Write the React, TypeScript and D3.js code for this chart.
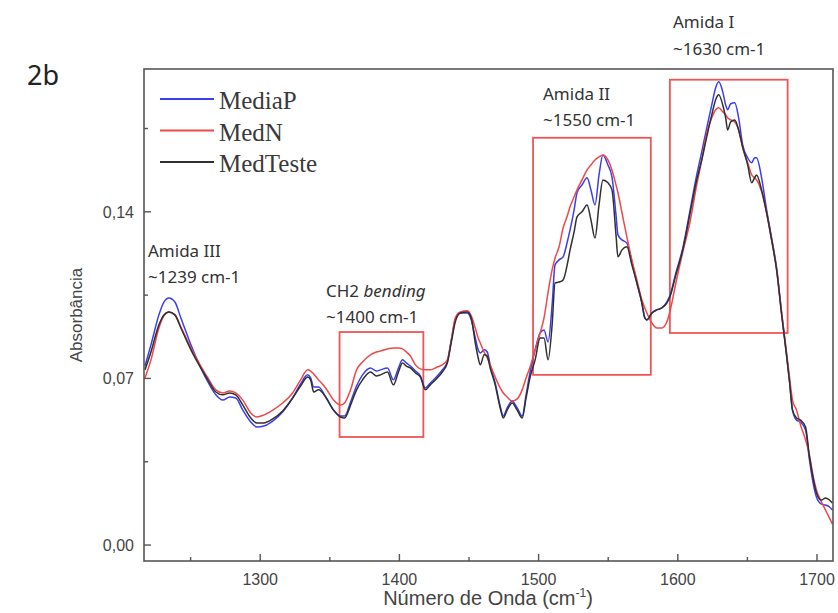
import React, { useEffect, useRef } from "react";
import * as d3 from "d3";

// wavenumber grid (cm-1) shared by the three averaged spectra
const wavenumber = [
  1217.2, 1221.5, 1227.2, 1230.8, 1234.4, 1238.7, 1243.0, 1250.2, 1257.3, 1262.4,
  1268.1, 1273.1, 1278.1, 1282.4, 1287.5, 1293.2, 1297.5, 1302.5, 1309.0, 1316.1,
  1323.3, 1329.0, 1334.1, 1336.2, 1338.4, 1341.9, 1347.0, 1352.7, 1357.7, 1360.6,
  1364.9, 1369.2, 1373.5, 1379.2, 1383.5, 1386.4, 1391.4, 1395.7, 1399.3, 1402.2,
  1405.0, 1407.9, 1411.5, 1415.1, 1418.6, 1422.2, 1427.2, 1430.8, 1434.4, 1437.3,
  1440.1, 1443.7, 1448.7, 1451.6, 1454.5, 1456.6, 1458.1, 1460.9, 1463.1, 1465.2,
  1468.8, 1472.4, 1474.6, 1477.4, 1481.0, 1484.6, 1488.2, 1491.0, 1493.9, 1497.5,
  1501.1, 1503.9, 1506.8, 1509.7, 1511.8, 1514.7, 1517.6, 1520.4, 1522.6, 1525.5,
  1527.6, 1531.2, 1534.8, 1537.6, 1540.5, 1543.4, 1546.2, 1549.8, 1552.7, 1555.6,
  1557.0, 1559.9, 1563.4, 1567.0, 1570.6, 1574.2, 1576.3, 1577.8, 1581.4, 1584.9,
  1588.5, 1592.1, 1594.3, 1598.6, 1603.6, 1608.6, 1613.6, 1617.2, 1620.8, 1624.4,
  1627.2, 1629.4, 1632.3, 1634.4, 1635.8, 1638.0, 1640.9, 1643.7, 1646.6, 1650.2,
  1653.1, 1655.2, 1656.6, 1660.2, 1663.8, 1667.4, 1671.0, 1674.6, 1678.1, 1680.3,
  1682.4, 1685.3, 1688.2, 1691.8, 1694.6, 1697.5, 1699.6, 1703.2, 1706.1, 1709.0,
  1711.1,
];

const mediaP = [
  0.0752, 0.0841, 0.0967, 0.1021, 0.1038, 0.1021, 0.0954, 0.0841, 0.0744, 0.0685,
  0.0631, 0.0609, 0.0622, 0.0618, 0.0567, 0.0517, 0.0496, 0.05, 0.0521, 0.0559,
  0.0618, 0.0677, 0.0715, 0.0702, 0.0664, 0.0664, 0.0622, 0.0567, 0.0542, 0.0542,
  0.0601, 0.0668, 0.0715, 0.0744, 0.0731, 0.0736, 0.0744, 0.0694, 0.0744, 0.0778,
  0.0765, 0.0752, 0.0731, 0.071, 0.066, 0.0681, 0.071, 0.0736, 0.0769, 0.0862,
  0.0946, 0.0975, 0.0975, 0.0946, 0.087, 0.082, 0.0807, 0.082, 0.0811, 0.0757,
  0.0681, 0.0584, 0.0542, 0.0576, 0.0605, 0.0576, 0.0542, 0.0631, 0.0727, 0.082,
  0.0891, 0.0904, 0.0853, 0.1009, 0.1177, 0.1198, 0.1211, 0.1269, 0.1324, 0.1408,
  0.148, 0.1513, 0.1543, 0.1492, 0.1429, 0.1555, 0.1639, 0.1597, 0.1547, 0.1387,
  0.1303, 0.1282, 0.1269, 0.119, 0.1101, 0.1017, 0.0954, 0.0946, 0.0975, 0.0988,
  0.0996, 0.1021, 0.1047, 0.1143, 0.1248, 0.14, 0.1555, 0.1652, 0.1753, 0.1849,
  0.1921, 0.1946, 0.1904, 0.1849, 0.1829, 0.1854, 0.1858, 0.1795, 0.1681, 0.1627,
  0.1606, 0.1627, 0.1627, 0.1543, 0.1408, 0.129, 0.1164, 0.0975, 0.0799, 0.0685,
  0.0567, 0.0525, 0.0517, 0.0483, 0.0357, 0.0252, 0.0202, 0.0172, 0.0168, 0.016,
  0.0147,
];

const medN = [
  0.0702, 0.0778, 0.0912, 0.0963, 0.0979, 0.0967, 0.0916, 0.0828, 0.0752, 0.0702,
  0.0652, 0.0639, 0.0647, 0.0639, 0.0609, 0.0555, 0.0538, 0.0546, 0.0567, 0.0597,
  0.0639, 0.0694, 0.0736, 0.0731, 0.0719, 0.0694, 0.066, 0.0609, 0.0588, 0.0597,
  0.0652, 0.0736, 0.0769, 0.0799, 0.0811, 0.0815, 0.0824, 0.0828, 0.0828, 0.0824,
  0.0811, 0.0794, 0.0757, 0.074, 0.0736, 0.0736, 0.0748, 0.0757, 0.0778, 0.0862,
  0.0954, 0.0979, 0.0984, 0.0963, 0.0912, 0.087, 0.0849, 0.0811, 0.0786, 0.0757,
  0.0706, 0.066, 0.0639, 0.0622, 0.0605, 0.0614, 0.0652, 0.0702, 0.0748, 0.082,
  0.0891, 0.0954, 0.1063, 0.1156, 0.1206, 0.1253, 0.1332, 0.1379, 0.1421, 0.1463,
  0.1492, 0.1534, 0.1576, 0.1597, 0.1618, 0.1631, 0.1639, 0.1618, 0.1576, 0.1513,
  0.148, 0.1396, 0.1295, 0.1198, 0.1114, 0.103, 0.0996, 0.0975, 0.0933, 0.0912,
  0.0912, 0.0937, 0.0979, 0.1101, 0.1232, 0.1353, 0.1513, 0.1618, 0.1732, 0.1795,
  0.1829, 0.1837, 0.182, 0.1807, 0.1795, 0.1786, 0.1778, 0.1744, 0.1669, 0.1606,
  0.1555, 0.1543, 0.1534, 0.1484, 0.1396, 0.1282, 0.1156, 0.0975, 0.0811, 0.0702,
  0.0609, 0.0567, 0.0504, 0.0441, 0.0378, 0.0282, 0.0231, 0.0181, 0.0147, 0.0113,
  0.0088,
];

const medTeste = [
  0.0736, 0.0811, 0.0925, 0.0967, 0.0979, 0.0967, 0.0912, 0.082, 0.0744, 0.0694,
  0.0643, 0.0631, 0.0639, 0.0631, 0.0588, 0.0534, 0.0513, 0.0513, 0.053, 0.0563,
  0.0618, 0.0668, 0.0706, 0.0694, 0.0643, 0.0652, 0.0622, 0.0567, 0.0538, 0.0534,
  0.0588, 0.0652, 0.0694, 0.0727, 0.071, 0.0715, 0.0727, 0.0673, 0.0727, 0.0765,
  0.0752, 0.0744, 0.0723, 0.0706, 0.0652, 0.0673, 0.0702, 0.0727, 0.0765, 0.0853,
  0.0937, 0.0975, 0.0979, 0.0954, 0.0849, 0.0786, 0.0757, 0.0799, 0.0794, 0.0744,
  0.0673, 0.0576, 0.0534, 0.0567, 0.0597, 0.0567, 0.0534, 0.0618, 0.0706, 0.0778,
  0.087, 0.087, 0.0778, 0.0925, 0.1101, 0.1105, 0.1114, 0.1173, 0.124, 0.1316,
  0.1379, 0.14, 0.1429, 0.1366, 0.129, 0.1429, 0.1534, 0.1522, 0.1492, 0.1303,
  0.1211, 0.124, 0.1253, 0.1177, 0.1101, 0.1017, 0.0954, 0.0946, 0.0975, 0.0988,
  0.0996, 0.1017, 0.1042, 0.1135, 0.124, 0.1387, 0.1534, 0.1618, 0.1715, 0.1807,
  0.1871, 0.1892, 0.1849, 0.1795, 0.1744, 0.1778, 0.1786, 0.1744, 0.1673, 0.1597,
  0.1522, 0.1543, 0.1555, 0.1492, 0.1396, 0.1282, 0.1156, 0.0967, 0.0799, 0.0685,
  0.0567, 0.0534, 0.0525, 0.0496, 0.037, 0.0273, 0.0219, 0.0189, 0.0198, 0.0189,
  0.0177,
];

const seriesNames = ["MediaP", "MedN", "MedTeste"];
const seriesColors = ["#3d3df0", "#ee4848", "#303030"];

const xMajor = [1300, 1400, 1500, 1600, 1700];
const xMinor = [1250, 1350, 1450, 1550, 1650];
const yMajor = [0, 0.07, 0.14];
const yMinor = [0.035, 0.105, 0.175];

// highlighted bands (data units)
const boxes = [
  { x0: 1357.0, x1: 1417.2, y0: 0.0454, y1: 0.0895 },
  { x0: 1496.0, x1: 1580.6, y0: 0.0715, y1: 0.1711 },
  { x0: 1594.3, x1: 1678.9, y0: 0.0891, y1: 0.1955 },
];

const App = () => {
  const svgRef = useRef<SVGSVGElement>(null);

  useEffect(() => {
    if (!svgRef.current) return;
    const svg = d3.select(svgRef.current);
    svg.selectAll("*").remove();

    const left = 144, right = 833, top = 69, bottom = 561;
    const x = d3.scaleLinear().domain([1216.5, 1711.5]).range([left, right]);
    const y = d3.scaleLinear().domain([-0.0067, 0.2]).range([bottom, top]);

    svg
      .append("clipPath")
      .attr("id", "plot-clip")
      .append("rect")
      .attr("x", left)
      .attr("y", top)
      .attr("width", right - left)
      .attr("height", bottom - top);

    // red boxes
    svg
      .append("g")
      .selectAll("rect")
      .data(boxes)
      .join("rect")
      .attr("x", (d) => x(d.x0))
      .attr("y", (d) => y(d.y1))
      .attr("width", (d) => x(d.x1) - x(d.x0))
      .attr("height", (d) => y(d.y0) - y(d.y1))
      .attr("fill", "none")
      .attr("stroke", "#ef5555")
      .attr("stroke-width", 1.8);

    // spectra
    const line = d3
      .line<number>()
      .x((_, i) => x(wavenumber[i]))
      .y((d) => y(d))
      .curve(d3.curveMonotoneX);

    const series = [mediaP, medN, medTeste];
    const g = svg.append("g").attr("clip-path", "url(#plot-clip)");
    series.forEach((vals, i) => {
      g.append("path")
        .attr("d", line(vals))
        .attr("fill", "none")
        .attr("stroke", seriesColors[i])
        .attr("stroke-width", 1.5)
        .attr("stroke-linejoin", "round");
    });

    // frame
    svg
      .append("rect")
      .attr("x", left)
      .attr("y", top)
      .attr("width", right - left)
      .attr("height", bottom - top)
      .attr("fill", "none")
      .attr("stroke", "#555")
      .attr("stroke-width", 1.6);

    // ticks (inward)
    const axisColor = "#555";
    const tickG = svg.append("g").attr("stroke", axisColor).attr("stroke-width", 1.4);
    xMajor.forEach((v) =>
      tickG.append("line").attr("x1", x(v)).attr("x2", x(v)).attr("y1", bottom).attr("y2", bottom - 7)
    );
    xMinor.forEach((v) =>
      tickG.append("line").attr("x1", x(v)).attr("x2", x(v)).attr("y1", bottom).attr("y2", bottom - 4)
    );
    yMajor.forEach((v) =>
      tickG.append("line").attr("x1", left).attr("x2", left + 7).attr("y1", y(v)).attr("y2", y(v))
    );
    yMinor.forEach((v) =>
      tickG.append("line").attr("x1", left).attr("x2", left + 4).attr("y1", y(v)).attr("y2", y(v))
    );

    const tickFont = "'Liberation Sans', Arial, sans-serif";
    svg
      .append("g")
      .selectAll("text")
      .data(xMajor)
      .join("text")
      .attr("x", (d) => x(d))
      .attr("y", 585)
      .attr("text-anchor", "middle")
      .style("font-family", tickFont)
      .style("font-size", "16px")
      .style("fill", "#444")
      .text((d) => String(d));

    svg
      .append("g")
      .selectAll("text")
      .data(yMajor)
      .join("text")
      .attr("x", 134)
      .attr("y", (d) => y(d) + 6)
      .attr("text-anchor", "end")
      .style("font-family", tickFont)
      .style("font-size", "16px")
      .style("fill", "#444")
      .text((d) => d3.format(".2f")(d).replace(".", ","));

    // axis titles
    const xt = svg
      .append("text")
      .attr("x", 488)
      .attr("y", 605)
      .attr("text-anchor", "middle")
      .style("font-family", tickFont)
      .style("font-size", "20px")
      .style("fill", "#444");
    xt.append("tspan").text("Número de Onda (cm");
    xt.append("tspan").attr("dy", -8).style("font-size", "12px").text("-1");
    xt.append("tspan").attr("dy", 8).text(")");

    svg
      .append("text")
      .attr("transform", "translate(82,315) rotate(-90)")
      .attr("text-anchor", "middle")
      .style("font-family", tickFont)
      .style("font-size", "17px")
      .style("fill", "#444")
      .text("Absorbância");

    // legend
    const legend = svg.append("g");
    seriesNames.forEach((name, i) => {
      const ly = 99 + i * 31.5;
      legend
        .append("line")
        .attr("x1", 160)
        .attr("x2", 214)
        .attr("y1", ly)
        .attr("y2", ly)
        .attr("stroke", seriesColors[i])
        .attr("stroke-width", 1.8);
      legend
        .append("text")
        .attr("x", 219)
        .attr("y", ly + 10)
        .style("font-family", "'Liberation Serif', 'Times New Roman', serif")
        .style("font-size", "25px")
        .style("fill", "#3a3a3a")
        .text(name);
    });

    // annotations
    const noteFont = "'Noto Sans', 'Open Sans', sans-serif";
    const note = (tx: number, ty: number, parts: { t: string; italic?: boolean }[]) => {
      const t = svg
        .append("text")
        .attr("x", tx)
        .attr("y", ty)
        .style("font-family", noteFont)
        .style("font-size", "17px")
        .style("fill", "#333");
      parts.forEach((p) => {
        t.append("tspan").style("font-style", p.italic ? "italic" : "normal").text(p.t);
      });
    };
    note(148, 257, [{ t: "Amida III" }]);
    note(148, 283, [{ t: "~1239 cm-1" }]);
    note(326, 297, [{ t: "CH2 " }, { t: "bending", italic: true }]);
    note(326, 323, [{ t: "~1400 cm-1" }]);
    note(543, 100, [{ t: "Amida II" }]);
    note(543, 126, [{ t: "~1550 cm-1" }]);
    note(673, 28, [{ t: "Amida I" }]);
    note(673, 55, [{ t: "~1630 cm-1" }]);

    svg
      .append("text")
      .attr("x", 27)
      .attr("y", 85)
      .style("font-family", noteFont)
      .style("font-size", "27px")
      .style("fill", "#222")
      .text("2b");
  }, []);

  return (
    <div style={{ position: "absolute", left: 0, top: 0, width: 838, height: 613, background: "#fff" }}>
      <svg ref={svgRef} width={838} height={613}></svg>
    </div>
  );
};

export default App;
